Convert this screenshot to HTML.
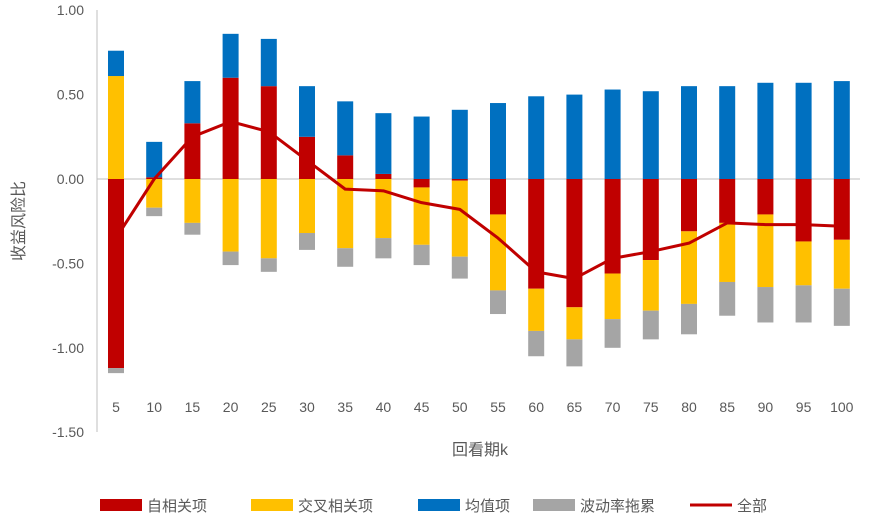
<!DOCTYPE html>
<html><head><meta charset="utf-8"><style>
body{margin:0;background:#fff;font-family:"Liberation Sans","Noto Sans CJK SC",sans-serif;}
svg text{font-family:"Liberation Sans","Noto Sans CJK SC",sans-serif;fill:#595959;}
</style></head><body>
<svg id="chart" width="876" height="519" xmlns="http://www.w3.org/2000/svg">
<g id="axes"></g><g id="bars"></g><g id="line"></g><g id="legend"></g>
</svg>
<script>
const categories=[5,10,15,20,25,30,35,40,45,50,55,60,65,70,75,80,85,90,95,100];
const autoCorr=[-1.12,0.01,0.33,0.60,0.55,0.25,0.14,0.03,-0.05,-0.01,-0.21,-0.65,-0.76,-0.56,-0.48,-0.31,-0.26,-0.21,-0.37,-0.36];
const crossCorr=[0.61,-0.17,-0.26,-0.43,-0.47,-0.32,-0.41,-0.35,-0.34,-0.45,-0.45,-0.25,-0.19,-0.27,-0.30,-0.43,-0.35,-0.43,-0.26,-0.29];
const meanTerm=[0.15,0.21,0.25,0.26,0.28,0.30,0.32,0.36,0.37,0.41,0.45,0.49,0.50,0.53,0.52,0.55,0.55,0.57,0.57,0.58];
const volDrag=[-0.03,-0.05,-0.07,-0.08,-0.08,-0.10,-0.11,-0.12,-0.12,-0.13,-0.14,-0.15,-0.16,-0.17,-0.17,-0.18,-0.20,-0.21,-0.22,-0.22];
const total=[-0.35,0.00,0.25,0.34,0.28,0.11,-0.06,-0.07,-0.14,-0.18,-0.35,-0.55,-0.59,-0.47,-0.43,-0.38,-0.26,-0.27,-0.27,-0.28];
const yTicks=[1.00,0.50,0.00,-0.50,-1.00,-1.50];
const NS="http://www.w3.org/2000/svg";
function y(v){return 179-v*168.8;}
function x(i){return 116+i*38.2;}
function mk(tag,attrs,parent,txt){const e=document.createElementNS(NS,tag);for(const k in attrs)e.setAttribute(k,attrs[k]);if(txt!==undefined)e.textContent=txt;parent.appendChild(e);return e;}
const axes=document.getElementById('axes'),bars=document.getElementById('bars'),lineG=document.getElementById('line'),legend=document.getElementById('legend');
let e=mk('line',{x1:97,y1:10,x2:97,y2:432,stroke:'#bfbfbf'},axes);

yTicks.forEach(t=>{const l=mk('text',{x:84,y:y(t)+5,'text-anchor':'end','font-size':14},axes,t.toFixed(2));
});
categories.forEach((c,i)=>{const l=mk('text',{x:x(i),y:412,'text-anchor':'middle','font-size':14},axes,String(c));
});
e=mk('text',{x:24,y:221,'text-anchor':'middle','font-size':16,transform:'rotate(-90 24 221)'},axes,'收益风险比');

e=mk('text',{x:480,y:455,'text-anchor':'middle','font-size':16},axes,'回看期k');

const series=[[autoCorr,'#c00000','auto-corr'],[crossCorr,'#ffc000','cross-corr'],[meanTerm,'#0070c0','mean'],[volDrag,'#a5a5a5','vol-drag']];
categories.forEach((c,i)=>{let pos=0,neg=0;
series.forEach(([arr,col,nm])=>{const v=arr[i];let a,b;
if(v>=0){a=pos;b=pos+v;pos=b;}else{a=neg;b=neg+v;neg=b;}
const r=mk('rect',{x:x(i)-8,y:Math.min(y(a),y(b)),width:16,height:Math.abs(y(a)-y(b)),fill:col},bars);
});});
e=mk('line',{x1:97,y1:y(0),x2:860,y2:y(0),stroke:'#bfbfbf'},axes);

const p=mk('polyline',{points:total.map((v,i)=>x(i)+','+y(v)).join(' '),fill:'none',stroke:'#c00000','stroke-width':3,'stroke-linejoin':'round'},lineG);

const leg=[['自相关项','#c00000',100,'rect'],['交叉相关项','#ffc000',251,'rect'],['均值项','#0070c0',418,'rect'],['波动率拖累','#a5a5a5',533,'rect'],['全部','#c00000',690,'line']];
leg.forEach(([t,col,lx,kind])=>{const g=mk('g',{},legend);

if(kind==='rect')mk('rect',{x:lx,y:499,width:42,height:12,fill:col},g);
else mk('line',{x1:lx,y1:505,x2:lx+42,y2:505,stroke:col,'stroke-width':3},g);
mk('text',{x:lx+47,y:511,'font-size':15,fill:'#404040'},g,t);});
</script>
</body></html>
